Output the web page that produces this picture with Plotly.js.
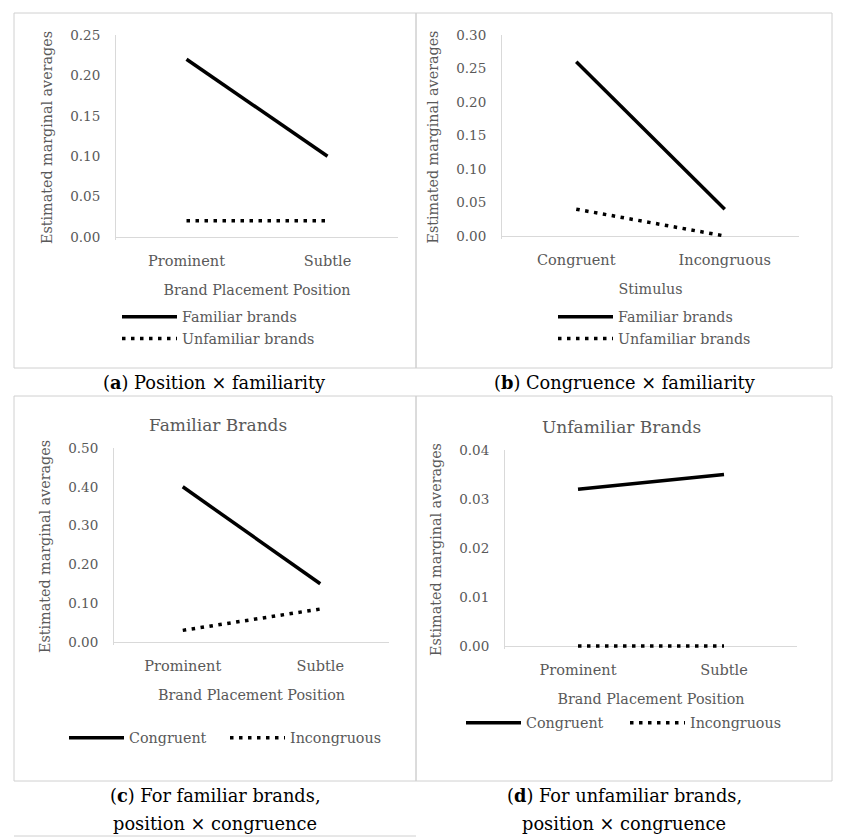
<!DOCTYPE html>
<html>
<head>
<meta charset="utf-8">
<script src="https://cdn.plot.ly/plotly-3.0.1.min.js"></script>
<style>
  html, body { margin: 0; padding: 0; background: #ffffff; }
  #chart { width: 842px; height: 837px; }
</style>
</head>
<body>
<div id="chart"></div>
<script>
// ---------------- data ----------------
const catsPosition = ['Prominent', 'Subtle'];
const catsStimulus = ['Congruent', 'Incongruous'];

const familiarA = [0.22, 0.10];
const unfamiliarA = [0.02, 0.02];

const familiarB = [0.26, 0.04];
const unfamiliarB = [0.04, 0.00];

const congruentC = [0.40, 0.15];
const incongruousC = [0.03, 0.085];

const congruentD = [0.032, 0.035];
const incongruousD = [0.00, 0.00];

const yTicksA = { max: 0.25, dtick: 0.05 };
const yTicksB = { max: 0.30, dtick: 0.05 };
const yTicksC = { max: 0.50, dtick: 0.10 };
const yTicksD = { max: 0.04, dtick: 0.01 };

// ---------------- layout helpers ----------------
const W = 842, H = 837;
const px = v => v / W;
const py = v => 1 - v / H;

const FONT = 'DejaVu Serif, Liberation Serif, serif';
const GRAY = '#595959';
const AXIS = '#d9d9d9';
const BORDER = '#d0d0d0';
const LW = 3.5;
const DOT = '3.5px,5.5px';

function lineTrace(x, y, name, ax, legend, dotted) {
  return {
    type: 'scatter', mode: 'lines', x: x, y: y, name: name,
    xaxis: 'x' + ax, yaxis: 'y' + ax, legend: legend,
    line: { color: '#000000', width: LW, dash: dotted ? DOT : 'solid' },
    hoverinfo: 'x+y+name'
  };
}

// plot areas in pixels: [left, right, topPx(max), bottomPx(zero)]
const areas = {
  '':  [116, 398, 35, 237],
  '2': [502, 799, 35, 236],
  '3': [114, 389, 448, 642],
  '4': [505, 797, 450, 646]
};
const ticks = { '': yTicksA, '2': yTicksB, '3': yTicksC, '4': yTicksD };
const xtitles = { '': 'Brand Placement Position', '2': 'Stimulus', '3': 'Brand Placement Position', '4': 'Brand Placement Position' };

const data = [
  lineTrace(catsPosition, familiarA, 'Familiar brands', '', 'legend', false),
  lineTrace(catsPosition, unfamiliarA, 'Unfamiliar brands', '', 'legend', true),
  lineTrace(catsStimulus, familiarB, 'Familiar brands', '2', 'legend2', false),
  lineTrace(catsStimulus, unfamiliarB, 'Unfamiliar brands', '2', 'legend2', true),
  lineTrace(catsPosition, congruentC, 'Congruent', '3', 'legend3', false),
  lineTrace(catsPosition, incongruousC, 'Incongruous', '3', 'legend3', true),
  lineTrace(catsPosition, congruentD, 'Congruent', '4', 'legend4', false),
  lineTrace(catsPosition, incongruousD, 'Incongruous', '4', 'legend4', true)
];

const layout = {
  width: W, height: H,
  margin: { l: 0, r: 0, t: 0, b: 0 },
  paper_bgcolor: '#ffffff', plot_bgcolor: 'rgba(0,0,0,0)',
  font: { family: FONT, color: GRAY, size: 14 },
  showlegend: true,
  shapes: [], annotations: []
};

Object.keys(areas).forEach(k => {
  const [l, r, t, b] = areas[k];
  const tk = ticks[k];
  const padPx = 3;
  const pad = tk.max * padPx / (b - t);
  const xa = 'xaxis' + k, ya = 'yaxis' + k;
  layout[xa] = {
    domain: [px(l), px(r)],
    anchor: 'y' + k,
    type: 'category',
    range: [-0.5, 1.5],
    showline: false, showgrid: false, zeroline: false,
    ticks: '', ticklabelstandoff: 10,
    tickfont: { family: FONT, size: 14.5, color: GRAY },
    title: { text: xtitles[k], font: { family: FONT, size: 14.3, color: GRAY }, standoff: 17 },
    fixedrange: true
  };
  layout[ya] = {
    domain: [py(b + padPx), py(t)],
    anchor: 'x' + k,
    range: [-pad, tk.max],
    dtick: tk.dtick, tick0: 0, tickformat: '.2f',
    showline: true, linecolor: AXIS, linewidth: 1,
    showgrid: false, zeroline: true, zerolinecolor: AXIS, zerolinewidth: 1,
    ticks: '', ticklabelstandoff: 12,
    tickfont: { family: FONT, size: 13.5, color: GRAY },
    title: { text: 'Estimated marginal averages', font: { family: FONT, size: 14.3, color: GRAY }, standoff: 14 },
    fixedrange: true
  };
});

// legends
const legFont = { family: FONT, size: 14.3, color: GRAY };
layout.legend  = { x: px(117), y: py(328), xanchor: 'left', yanchor: 'middle', orientation: 'v', font: legFont, itemwidth: 55, bgcolor: 'rgba(0,0,0,0)', tracegroupgap: 0 };
layout.legend2 = { x: px(553), y: py(328), xanchor: 'left', yanchor: 'middle', orientation: 'v', font: legFont, itemwidth: 55, bgcolor: 'rgba(0,0,0,0)', tracegroupgap: 0 };
layout.legend3 = { x: px(64), y: py(738), xanchor: 'left', yanchor: 'middle', orientation: 'h', font: legFont, itemwidth: 55, entrywidth: 91, entrywidthmode: 'pixels', bgcolor: 'rgba(0,0,0,0)' };
layout.legend4 = { x: px(461), y: py(723), xanchor: 'left', yanchor: 'middle', orientation: 'h', font: legFont, itemwidth: 55, entrywidth: 94, entrywidthmode: 'pixels', bgcolor: 'rgba(0,0,0,0)' };

// panel borders
const rect = (x0, y0, x1, y1) => ({ type: 'rect', xref: 'paper', yref: 'paper', x0: px(x0), x1: px(x1), y0: py(y0), y1: py(y1), line: { color: BORDER, width: 1 }, fillcolor: 'rgba(0,0,0,0)', layer: 'below' });
layout.shapes.push(rect(14, 13, 416, 368));
layout.shapes.push(rect(416, 13, 832, 368));
layout.shapes.push(rect(14, 396, 416, 781));
layout.shapes.push(rect(416, 396, 832, 781));
layout.shapes.push({ type: 'line', xref: 'paper', yref: 'paper', x0: px(14), x1: px(416), y0: py(836), y1: py(836), line: { color: BORDER, width: 1 } });

// captions and panel titles
const ann = (text, x, y, size, color) => ({ text: text, xref: 'paper', yref: 'paper', x: px(x), y: py(y), xanchor: 'center', yanchor: 'middle', showarrow: false, font: { family: FONT, size: size, color: color } });
layout.annotations.push(ann('(<b>a</b>) Position × familiarity', 214, 382, 17.8, '#000000'));
layout.annotations.push(ann('(<b>b</b>) Congruence × familiarity', 624, 382, 17.8, '#000000'));
layout.annotations.push(ann('(<b>c</b>) For familiar brands,', 215, 795, 17.8, '#000000'));
layout.annotations.push(ann('position × congruence', 215, 823, 17.8, '#000000'));
layout.annotations.push(ann('(<b>d</b>) For unfamiliar brands,', 624, 795, 17.8, '#000000'));
layout.annotations.push(ann('position × congruence', 624, 823, 17.8, '#000000'));
layout.annotations.push(ann('Familiar Brands', 218, 425, 17, GRAY));
layout.annotations.push(ann('Unfamiliar Brands', 621, 427, 17, GRAY));

Plotly.newPlot('chart', data, layout, { displayModeBar: false, staticPlot: false, responsive: false });
</script>
</body>
</html>
